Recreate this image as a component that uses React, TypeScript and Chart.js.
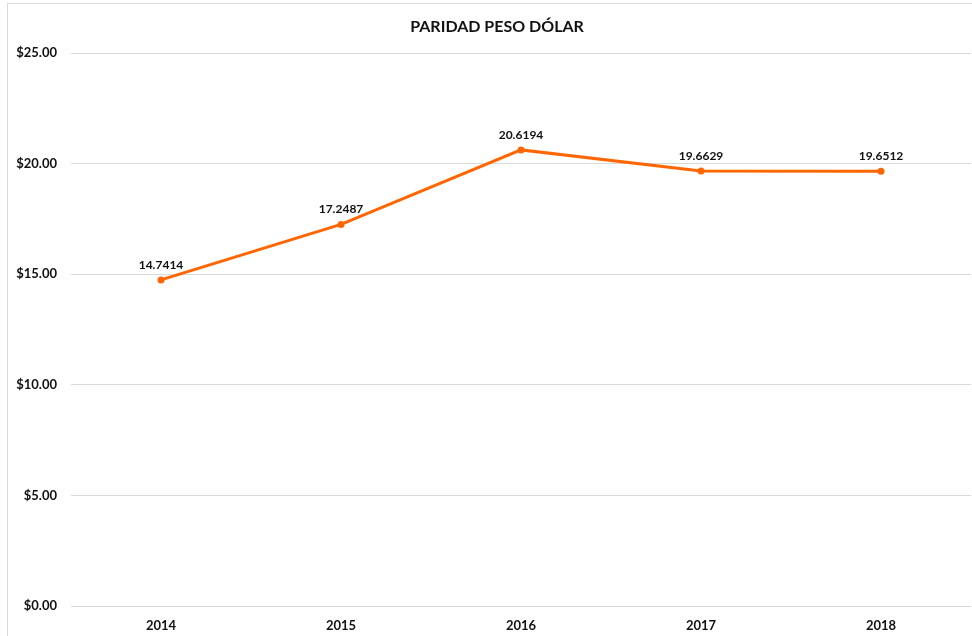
import React, { useEffect, useRef } from "react";
import { Chart, registerables } from "chart.js";

Chart.register(...registerables);

const title = "PARIDAD PESO DÓLAR";
const categories = ["2014", "2015", "2016", "2017", "2018"];
const values = [14.7414, 17.2487, 20.6194, 19.6629, 19.6512];
const yMin = 0;
const yMax = 25;
const yStep = 5;

const FONT = "Lato, 'Open Sans', 'Liberation Sans', sans-serif";

const labelPlugin = {
  id: "pointLabels",
  afterDatasetsDraw(chart: any) {
    const ctx = chart.ctx;
    const meta = chart.getDatasetMeta(0);
    ctx.save();
    ctx.font = `bold 12px ${FONT}`;
    ctx.fillStyle = "#111";
    ctx.textAlign = "center";
    ctx.textBaseline = "middle";
    meta.data.forEach((pt: any, i: number) => {
      ctx.fillText(values[i].toFixed(4), pt.x, pt.y - 15);
    });
    ctx.restore();
  },
};

const titlePlugin = {
  id: "customTitle",
  afterDraw(chart: any) {
    const ctx = chart.ctx;
    ctx.save();
    ctx.font = `bold 16px ${FONT}`;
    ctx.fillStyle = "#111";
    ctx.textAlign = "center";
    ctx.textBaseline = "middle";
    ctx.fillText(title, chart.width / 2, 23);
    ctx.restore();
  },
};

export default function App() {
  const ref = useRef<HTMLCanvasElement | null>(null);
  useEffect(() => {
    document.body.style.overflow = "hidden";
    const chart = new Chart(ref.current as HTMLCanvasElement, {
      type: "line",
      data: {
        labels: categories,
        datasets: [
          {
            data: values,
            borderColor: "#FF6600",
            backgroundColor: "#FF6600",
            borderWidth: 3,
            pointRadius: 3.5,
            pointBorderWidth: 0,
            pointBackgroundColor: "#FF6600",
            tension: 0,
          },
        ],
      },
      options: {
        animation: false,
        responsive: false,
        layout: { padding: { top: 49, right: 15, left: 0, bottom: 0 } },
        plugins: {
          legend: { display: false },
          title: { display: false },
          tooltip: { enabled: false },
        },
        scales: {
          x: {
            offset: true,
            grid: { display: false, drawTicks: false },
            border: { display: false },
            ticks: {
              padding: 12,
              color: "#111",
              font: { family: FONT, size: 13, weight: "bold" },
            },
            afterFit(scale: any) {
              scale.height = 38;
            },
          },
          y: {
            min: yMin,
            max: yMax,
            grid: { color: "#d9d9d9", lineWidth: 1, drawTicks: false },
            border: { display: false },
            ticks: {
              stepSize: yStep,
              padding: 14,
              color: "#111",
              font: { family: FONT, size: 13, weight: "bold" },
              callback: (v: any) => "$" + Number(v).toFixed(2),
            },
            afterFit(scale: any) {
              scale.width = 63;
            },
          },
        },
      },
      plugins: [labelPlugin, titlePlugin],
    });
    return () => chart.destroy();
  }, []);
  return (
    <div
      style={{
        position: "fixed",
        left: 7,
        top: 3,
        border: "1px solid #d9d9d9",
        background: "#fff",
        width: 978,
        height: 640,
      }}
    >
      <canvas ref={ref} width={978} height={640} style={{ display: "block" }} />
    </div>
  );
}
